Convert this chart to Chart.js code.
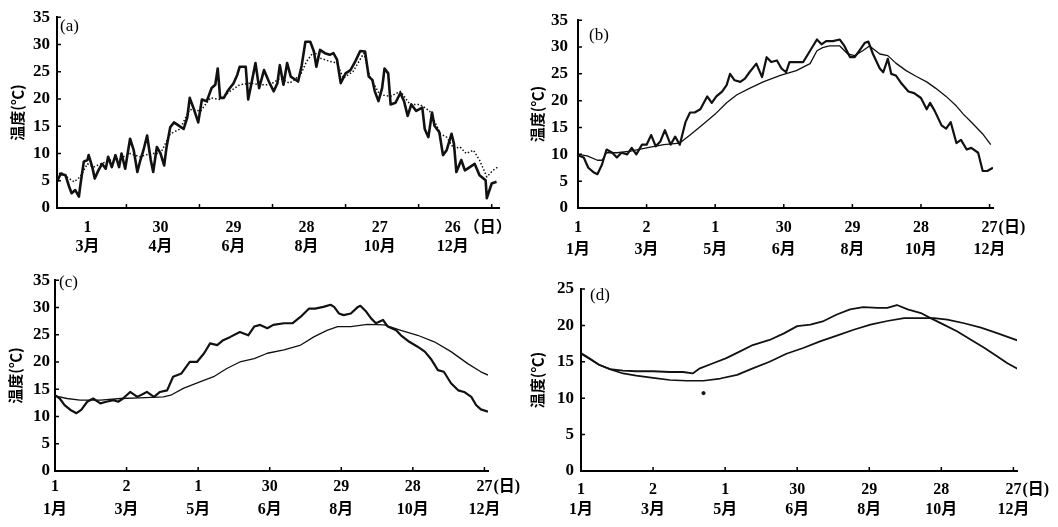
<!DOCTYPE html>
<html>
<head>
<meta charset="utf-8">
<script src="https://cdn.jsdelivr.net/npm/chart.js@4.4.1/dist/chart.umd.min.js"></script>
<style>
  body { margin: 0; background: #fff; width: 1058px; height: 527px; position: relative; overflow: hidden; }
  canvas { position: absolute; }
</style>
</head>
<body>
<canvas id="pa" width="524" height="262" style="left:0;top:0"></canvas>
<canvas id="pb" width="534" height="262" style="left:524px;top:0"></canvas>
<canvas id="pc" width="524" height="262" style="left:0;top:265px"></canvas>
<canvas id="pd" width="534" height="262" style="left:524px;top:265px"></canvas>
<script>
// (a) day of year for every reading, solid and dotted series
const aSolidDays = [34,37,41,44,46,49,52,53,56,59,60,63,65,68,71,74,76,79,82,85,87,90,94,97,100,102,105,108,111,113,116,119,122,124,127,130,134,138,141,143,146,150,153,157,161,164,166,168,171,174,176,179,182,184,189,191,194,197,200,204,208,212,215,217,220,223,226,228,232,235,238,242,245,247,250,254,258,261,264,267,271,275,279,283,287,290,293,295,298,301,303,306,308,312,316,319,322,325,329,334,336,339,342,344,348,351,354,358,360,362,366,369,373,377,381,386,387,391,395];
const aSolid = [4.8,6.3,6.0,3.9,2.7,3.3,2.1,3.9,8.5,8.8,9.7,7.5,5.4,6.9,8.1,7.2,9.4,7.5,9.7,7.5,10,7.2,12.7,10.6,6.6,8.4,10.6,13.3,8.8,6.6,11.2,10,7.8,11.2,14.8,15.7,15.1,14.5,16.6,20.2,18.4,15.7,19.9,19.6,22,22.6,25.6,20.2,20.2,21.4,22,22.9,24.4,25.9,25.9,19.9,23.2,26.6,22,25.3,23.2,21.4,22.9,26.2,22.6,26.6,24.1,23.8,23.2,26.2,30.5,30.5,28.7,25.9,29.0,28.4,28.1,28.4,27.2,22.9,24.7,25.3,26.9,28.8,28.7,24.1,23.5,21.4,19.6,22,25.6,24.7,19,19.3,21.1,19.6,16.9,19,17.8,18.4,14.5,13,17.5,15.1,13.9,9.7,10.6,13.6,11.8,6.6,8.8,6.9,7.5,8.1,6.0,5.1,1.8,4.5,4.8];
const aDottedDays = [34,37,42,48,53,59,64,70,78,86,94,102,111,119,127,135,143,152,160,168,176,184,193,201,209,217,225,234,239,245,250,258,264,269,277,286,291,299,308,316,324,332,340,349,354,360,365,370,376,381,387,392,396];
const aDotted = [5.7,6.6,5.7,4.8,5.7,8.1,7.5,8.1,8.8,9.1,10,9.4,10,10,13.6,14.5,18.1,17.8,20.2,19.9,21.4,22.6,22.9,22.6,22.6,23.8,22.9,24.4,26.9,28.7,27.5,26.9,26.6,23.8,25,28.4,24.1,20.8,20.5,21.4,19,19,17.8,13.6,13,10.9,11.2,10,10.6,8.8,5.7,6.9,7.5];

// (b)
const bThickDays = [0,5,9,14,17,21,25,30,34,38,43,47,51,56,60,64,68,72,76,81,85,89,94,98,102,107,113,117,121,126,130,133,137,142,146,150,156,161,165,169,174,178,182,185,191,197,203,209,213,217,223,229,233,238,242,246,251,254,258,264,267,271,274,278,283,289,294,300,305,308,312,318,322,326,331,335,340,344,350,354,358,363];
const bThick = [9.8,9.4,7.5,6.6,6.3,8.1,10.9,10.3,9.4,10.3,10,11.2,10,11.8,11.8,13.6,11.5,12.4,14.5,11.8,13.3,11.8,16,17.8,17.8,18.4,20.8,19.6,20.8,21.7,22.9,25,23.8,23.5,24.1,25.3,26.9,24.4,28.1,27.2,27.5,26,25.3,27.2,27.2,27.2,29.3,31.4,30.5,31.1,31.1,31.4,30.2,28.1,28.1,29.3,30.8,31,28.7,26,25.3,27.8,25,24.7,23.2,21.7,21.4,20.5,18.4,19.6,18.1,15.4,14.8,16,12.1,12.7,10.9,11.2,10.3,6.9,6.9,7.5];
const bThinDays = [0,8,17,21,25,34,46,60,75,89,98,110,120,130,139,150,162,177,191,203,209,214,220,229,236,242,249,255,264,271,278,287,296,305,313,322,331,337,345,354,361];
const bThin = [10,9.7,8.9,8.9,10.3,10.3,10.6,11.2,11.8,12.1,13.6,15.7,17.5,19.6,21.1,22.3,23.5,24.7,25.6,26.9,29.3,29.9,30.2,30.2,28.7,28.4,29.3,30.2,28.7,28.4,27,25.6,24.5,23.5,22.3,20.8,19,17.5,15.8,13.8,11.8];

// (c)
const cThickDays = [0,4,8,13,18,22,27,32,38,43,49,53,57,63,69,77,83,88,94,99,106,113,119,125,130,136,141,147,155,162,167,172,178,183,192,199,206,213,218,225,231,234,238,242,248,254,256,261,265,269,275,279,286,290,297,304,310,315,321,326,332,338,343,349,353,357,363];
const cThick = [13.9,13.3,12.1,11.2,10.6,11.2,12.7,13.3,12.4,12.7,13,12.7,13.3,14.5,13.6,14.5,13.6,14.5,14.8,17.3,17.9,20,20,21.6,23.4,23.1,24,24.6,25.5,24.9,26.5,26.8,26.2,26.8,27.1,27.1,28.3,29.8,29.8,30.1,30.5,30.1,28.9,28.6,28.9,30.1,30.3,29.2,28,27.1,27.7,26.5,25.8,24.9,23.7,22.8,21.9,20.6,18.5,18.2,16.1,14.8,14.5,13.6,12.1,11.3,10.9];
const cThinDays = [0,10,21,38,55,71,91,97,108,122,133,144,155,167,178,192,206,217,228,237,248,262,276,290,304,318,332,346,357,363];
const cThin = [13.8,13.3,13,13,13.3,13.4,13.6,13.9,15.2,16.4,17.3,18.8,20,20.6,21.6,22.2,23.1,24.6,25.8,26.5,26.5,26.9,26.8,25.8,24.9,23.7,21.9,19.7,18.2,17.6];

// (d)
const dUpperDays = [0,7,15,24,35,46,60,74,85,93,99,110,121,132,143,157,169,180,191,202,213,224,235,247,255,263,272,283,291,302,313,325,336,347,355,364];
const dUpper = [16.2,15.5,14.6,14,13.8,13.7,13.7,13.6,13.6,13.4,14.1,14.8,15.5,16.4,17.3,18,18.9,19.9,20.1,20.6,21.5,22.2,22.5,22.4,22.4,22.8,22.2,21.7,21,20.1,19.2,18,16.9,15.7,14.8,14];
const dLowerDays = [0,7,15,24,35,46,60,74,88,102,116,130,143,157,171,185,199,213,227,241,255,269,283,294,305,319,333,347,364];
const dLower = [16.1,15.4,14.6,14,13.4,13.1,12.8,12.5,12.4,12.4,12.7,13.2,14.1,15,16.1,16.9,17.8,18.6,19.4,20.1,20.6,21,21,21,20.8,20.3,19.7,18.9,17.9];
const dSpotDays = [102];
const dSpot = [10.7];

// axis labels: (a) runs from early February, the others from 1 January
const aLabelDays = [59, 119, 179, 239, 299, 359];
const aDayText = ['1', '30', '29', '28', '27', '26'];
const aMonthText = ['3月', '4月', '6月', '8月', '10月', '12月'];
const aTickDays = [91, 151, 211, 271, 331, 391];
const yearLabelDays = [0, 60, 120, 180, 240, 300, 360];
const yearDayText = ['1', '2', '1', '30', '29', '28', '27'];
const yearMonthText = ['1月', '3月', '5月', '6月', '8月', '10月', '12月'];
const yearTickDays = [60, 120, 180, 240, 300, 360];

const SERIF = '"Liberation Serif", "Noto Sans CJK SC", serif';
const INK = '#111';

const pts = (days, vals) => days.map((d, i) => ({ x: d, y: vals[i] }));

// short inward ticks, the panel tag and the "(日)" unit after the last day label
const decor = {
  id: 'decor',
  afterDraw(chart, args, o) {
    const { ctx, chartArea: a, scales: { x, y } } = chart;
    ctx.save();
    ctx.strokeStyle = '#000';
    ctx.lineWidth = 1.5;
    ctx.beginPath();
    o.tickDays.forEach(d => {
      const px = x.getPixelForValue(d);
      ctx.moveTo(px, a.bottom);
      ctx.lineTo(px, a.bottom - 4);
    });
    y.ticks.forEach(t => {
      const py = y.getPixelForValue(t.value);
      ctx.moveTo(a.left, py);
      ctx.lineTo(a.left + 4, py);
    });
    ctx.stroke();

    ctx.fillStyle = '#000';
    ctx.textBaseline = 'middle';
    ctx.textAlign = 'left';
    ctx.font = '17px ' + SERIF;
    ctx.fillText(o.tag, a.left + o.tagDx, a.top + o.tagDy);

    ctx.font = 'bold 16px ' + SERIF;
    const lastDay = o.labelDays[o.labelDays.length - 1];
    const lastText = o.dayText[o.dayText.length - 1];
    const px = x.getPixelForValue(lastDay) + ctx.measureText(lastText).width / 2 + o.unitGap;
    ctx.fillText(o.unit, px, a.bottom + o.labelPad + o.lineHeight / 2);
    ctx.restore();
  }
};

function panel(id, p) {
  const canvas = document.getElementById(id);
  new Chart(canvas, {
    type: 'line',
    data: {
      datasets: p.series.map(s => ({
        data: pts(s.days, s.vals),
        borderColor: INK,
        backgroundColor: INK,
        borderWidth: s.width,
        borderDash: s.dash || [],
        showLine: s.dot ? false : true,
        pointRadius: s.dot ? 1.6 : 0,
        tension: 0,
        borderJoinStyle: 'round',
        fill: false
      }))
    },
    options: {
      responsive: false,
      animation: false,
      layout: { padding: { left: 0, top: p.top, right: canvas.width - p.right, bottom: 0 } },
      plugins: {
        legend: { display: false },
        tooltip: { enabled: false },
        decor: {
          tickDays: p.tickDays, labelDays: p.labelDays, dayText: p.dayText,
          tag: p.tag, tagDx: p.tagDx, tagDy: p.tagDy,
          unit: p.unit, unitGap: p.unitGap, labelPad: p.labelPad, lineHeight: p.lineHeight
        }
      },
      scales: {
        x: {
          type: 'linear',
          bounds: 'data',
          min: p.xMin,
          max: p.xMax,
          grid: { display: false, drawTicks: false },
          border: { color: '#000', width: 2 },
          afterBuildTicks: s => { s.ticks = p.labelDays.map(v => ({ value: v })); },
          afterFit: s => { s.height = canvas.height - p.bottom; },
          ticks: {
            autoSkip: false,
            maxRotation: 0,
            padding: p.labelPad,
            color: '#000',
            font: { family: SERIF, size: 16, weight: 'bold', lineHeight: p.lineHeight / 16 },
            callback: (v, i) => [p.dayText[i], p.monthText[i]]
          }
        },
        y: {
          min: 0,
          max: p.yMax,
          grid: { display: false, drawTicks: false },
          border: { color: '#000', width: 2 },
          afterFit: s => { s.width = p.left; },
          ticks: {
            stepSize: 5,
            padding: p.yPad,
            color: '#000',
            font: { family: SERIF, size: 17, weight: 'bold' }
          },
          title: {
            display: true,
            text: '温度(℃)',
            color: '#000',
            padding: { top: p.titlePad, bottom: 0 },
            font: { family: '"Noto Sans CJK SC", sans-serif', size: 15, weight: 'bold' }
          }
        }
      }
    },
    plugins: [decor]
  });
}

panel('pa', {
  left: 57, right: 499, top: 15, bottom: 208,
  xMin: 34, xMax: 397, yMax: 35,
  labelDays: aLabelDays, dayText: aDayText, monthText: aMonthText, tickDays: aTickDays,
  labelPad: 10, lineHeight: 19.5, yPad: 7, titlePad: 8,
  tag: '(a)', tagDx: 3, tagDy: 9, unit: '（日）', unitGap: 3,
  series: [
    { days: aDottedDays, vals: aDotted, width: 1.5, dash: [1.5, 2] },
    { days: aSolidDays, vals: aSolid, width: 2.6 }
  ]
});

panel('pb', {
  left: 54, right: 469, top: 16, bottom: 208,
  xMin: 0, xMax: 363, yMax: 35,
  labelDays: yearLabelDays, dayText: yearDayText, monthText: yearMonthText, tickDays: yearTickDays,
  labelPad: 9, lineHeight: 22, yPad: 10, titlePad: 4,
  tag: '(b)', tagDx: 11, tagDy: 15, unit: '(日)', unitGap: 1,
  series: [
    { days: bThinDays, vals: bThin, width: 1.3 },
    { days: bThickDays, vals: bThick, width: 2.2 }
  ]
});

panel('pc', {
  left: 55, right: 488, top: 15, bottom: 206,
  xMin: 0, xMax: 363, yMax: 35,
  labelDays: yearLabelDays, dayText: yearDayText, monthText: yearMonthText, tickDays: yearTickDays,
  labelPad: 4, lineHeight: 23, yPad: 5, titlePad: 6,
  tag: '(c)', tagDx: 4, tagDy: 2, unit: '(日)', unitGap: 1,
  series: [
    { days: cThinDays, vals: cThin, width: 1.3 },
    { days: cThickDays, vals: cThick, width: 2.2 }
  ]
});

panel('pd', {
  left: 57, right: 493, top: 24, bottom: 206,
  xMin: 0, xMax: 363, yMax: 25,
  labelDays: yearLabelDays, dayText: yearDayText, monthText: yearMonthText, tickDays: yearTickDays,
  labelPad: 9, lineHeight: 20, yPad: 7, titlePad: 4,
  tag: '(d)', tagDx: 9, tagDy: 7, unit: '(日)', unitGap: 1,
  series: [
    { days: dLowerDays, vals: dLower, width: 1.7 },
    { days: dUpperDays, vals: dUpper, width: 1.8 },
    { days: dSpotDays, vals: dSpot, width: 1, dot: true }
  ]
});
</script>
</body>
</html>
